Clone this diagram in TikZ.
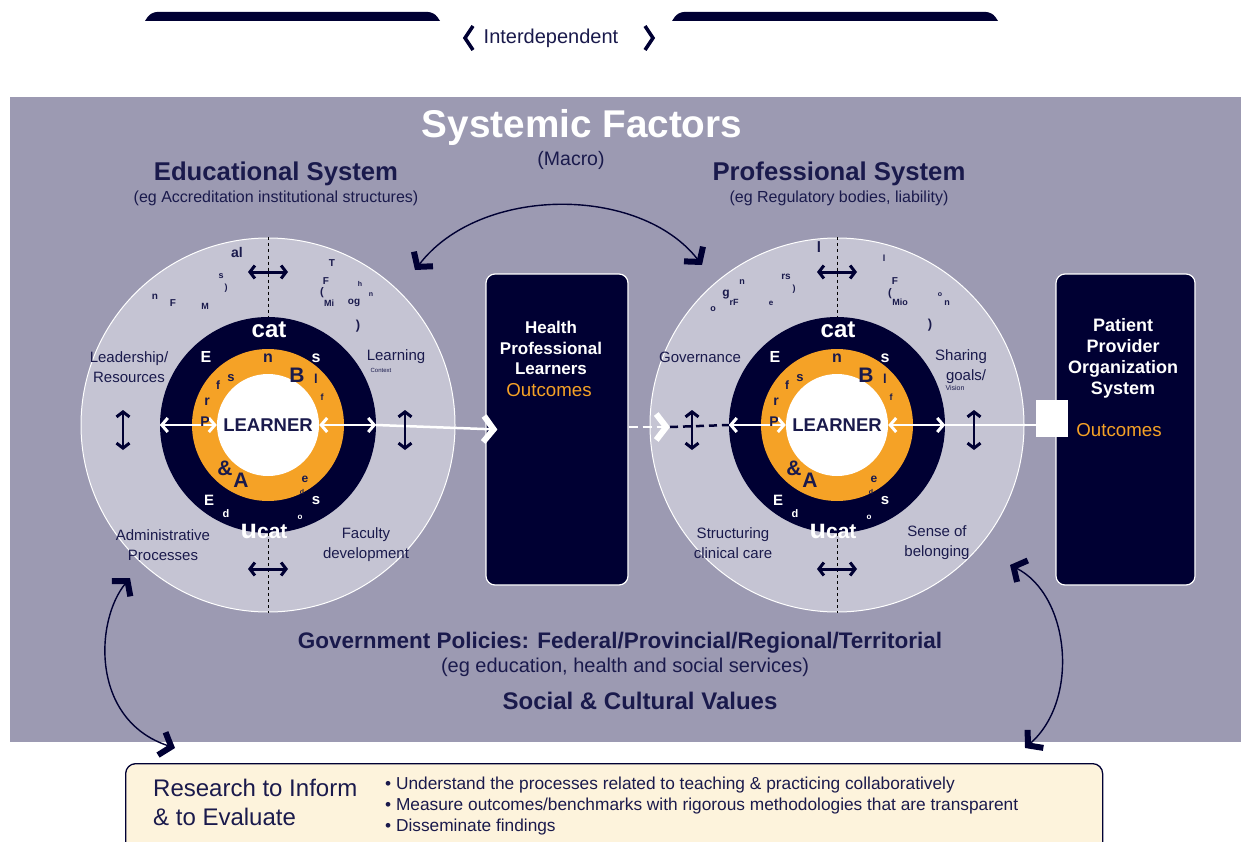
\documentclass[tikz,border=0pt]{standalone}
\usepackage{fontspec}
\setmainfont{Liberation Sans}
\usetikzlibrary{arrows.meta}
\definecolor{navy}{HTML}{000033}
\definecolor{ink}{HTML}{1A1A4C}
\definecolor{slate}{HTML}{9C9AB2}
\definecolor{mist}{HTML}{C5C4D3}
\definecolor{amber}{HTML}{F5A226}
\definecolor{cream}{HTML}{FDF3DC}
\newcommand{\pxfont}[2]{\fontsize{#1}{#2}\selectfont}

\tikzset{
  txt/.style={text=ink, inner sep=0pt, align=center},
  ringtxt/.style={inner sep=0pt, font=\bfseries},
  disc/.style={circle, inner sep=0pt, minimum size=#1},
  outbox/.style={draw=white, line width=1.2pt, fill=navy, rounded corners=9pt,
    minimum height=311pt},
  boxtitle/.style={text=white, align=center, inner sep=0pt, font=\bfseries\pxfont{17}{20.5}},
  outcome/.style={text=amber, inner sep=0pt, font=\pxfont{18.7}{20}},
  navyarrow/.style={draw=navy, line width=3pt,
    {Straight Barb[length=5pt,width=13pt,line width=3pt]}-{Straight Barb[length=5pt,width=13pt,line width=3pt]}},
  whitearrow/.style={draw=white, line width=2.5pt,
    {Straight Barb[length=6pt,width=14pt,line width=3pt]}-{Straight Barb[length=6pt,width=14pt,line width=3pt]}},
  whitelink/.style={draw=white, line width=2.5pt,
    -{Straight Barb[length=10pt,width=26pt,line width=6pt]}},
  swing/.style={draw=navy, line width=1.4pt,
    {Straight Barb[length=10pt,width=24pt,line width=6pt]}-{Straight Barb[length=10pt,width=24pt,line width=6pt]}}
}

\begin{document}
\begin{tikzpicture}[x=1pt, y=-1pt]
  % page, top tabs and panel
  \fill[white] (0,0) rectangle (1241,842);
  \clip (0,0) rectangle (1241,842);
  \fill[navy] (145,21) [rounded corners=6pt] -- (151,12) -- (434,12) [sharp corners] -- (440,21) -- cycle;
  \fill[navy] (672,21) [rounded corners=6pt] -- (678,12) -- (992,12) [sharp corners] -- (998,21) -- cycle;
  \node[txt, font=\pxfont{20}{22}] (inter) at (551,38) {Interdependent};
  \draw[navy, line width=3.5pt] (473,26) -- (465,38) -- (473,50);
  \draw[navy, line width=3.5pt] (645,26) -- (653,38) -- (645,50);
  \fill[slate] (10,97) rectangle (1241,742);

  % titles
  \node[txt, text=white, font=\bfseries\pxfont{38.7}{40}] (sysf) at (582,127) {Systemic Factors};
  \node[txt, font=\pxfont{19.5}{22}] (macro) at (571,160) {(Macro)};
  \node[txt, font=\bfseries\pxfont{25.7}{28}] (edutitle) at (276,174) {Educational System};
  \node[txt, font=\pxfont{16}{18}] (edusub) at (276,198) {(eg Accreditation institutional structures)};
  \node[txt, font=\bfseries\pxfont{25.7}{28}] (proftitle) at (839,174) {Professional System};
  \node[txt, font=\pxfont{16}{18}] (profsub) at (839,198) {(eg Regulatory bodies, liability)};

  % the two systems
  \foreach \sys/\cx in {educ/268, prof/837} {
    \node[disc=374pt, fill=mist, draw=white, line width=1pt] (\sys-out) at (\cx,425) {};
    \node[disc=216pt, fill=navy] (\sys-ring) at (\cx,425) {};
    \node[disc=152pt, fill=amber] (\sys-amber) at (\cx,425) {};
    \node[disc=102pt, fill=white, text=ink, font=\bfseries\pxfont{18.5}{20}] (\sys-core) at (\cx,425) {LEARNER};
    \draw[black, dashed, line width=1pt] (\sys-out.north) -- (\sys-ring.north);
    \draw[black, dashed, line width=1pt] (\sys-ring.south) -- (\sys-out.south);
    \draw[whitearrow] (\sys-ring.west) -- (\sys-core.west);
    \draw[whitearrow] (\sys-core.east) -- (\sys-ring.east);
    % broken ring lettering
    \foreach \t/\dx/\dy/\s in {cat/1/-95/24, E/-62/-68/16, s/48/-67/16, E/-59/75/15, s/48/76/15,
        d/-42/89/11, o/32/92/8, {\pxfont{27}{27}u\pxfont{21}{21}cat}/-4/106/21}
      \node[ringtxt, text=white, font=\bfseries\pxfont{\s}{\s}] at ([shift={(\dx,\dy)}]\sys-out.center) {\t};
    \foreach \t/\dx/\dy/\s in {n/0/-67/16, B/29/-50/21, s/-37/-47/13, f/-50/-40/12, l/48/-46/13,
        f/54/-28/9, r/-61/-23/14, P/-63/-3/14, \&/-43/43/21, A/-27/55/21, e/37/54/12, d/34/67/7}
      \node[ringtxt, text=ink, font=\bfseries\pxfont{\s}{\s}] at ([shift={(\dx,\dy)}]\sys-out.center) {\t};
    \draw[navyarrow] ([shift={(-20,-153)}]\sys-out.center) -- ([shift={(20,-153)}]\sys-out.center);
    \draw[navyarrow] ([shift={(-20,144)}]\sys-out.center) -- ([shift={(20,144)}]\sys-out.center);
  }

  % scattered fragments of the outer ring
  \foreach \t/\x/\y/\s in {al/237/252/14, s/221/276/9, {)}/226/288/9, n/155/297/10, F/173/303/10,
      M/205/306/9, T/332/263/10, F/326/281/10, {(}/322/293/11, Mi/329/303/9, og/354/303/10,
      h/360/284/7, n/371/295/7, {)}/358/326/13,
      l/819/247/15, rs/786/277/10, n/742/282/9, g/726/295/12, rF/734/302/9, o/713/309/9,
      e/771/303/8, {)}/794/289/9, l/884/258/9, F/895/281/10, {(}/890/294/11, Mio/900/302/9,
      n/947/303/9, o/940/295/7, {)}/930/325/13}
    \node[ringtxt, text=ink, font=\bfseries\pxfont{\s}{\s}] at (\x,\y) {\t};

  % sector labels
  \node[txt, font=\pxfont{15}{20}] (lead) at (129,367) {Leadership/\\Resources};
  \node[txt, font=\pxfont{15}{20}] (learn) at (396,357) {Learning};
  \node[txt, font=\pxfont{6}{6}] (context) at (381,370) {Context};
  \node[txt, font=\pxfont{15}{20}] (admin) at (163,545) {Administrative\\Processes};
  \node[txt, font=\pxfont{15}{20}] (faculty) at (366,545) {Faculty\\development};
  \node[txt, font=\pxfont{15}{20}] (gover) at (700,357) {Governance};
  \node[txt, font=\pxfont{15}{20}] (sharing) at (961,357) {Sharing};
  \node[txt, font=\pxfont{15}{20}] (goals) at (966,377) {goals/};
  \node[txt, font=\pxfont{7}{7}] (vision) at (955,388) {Vision};
  \node[txt, font=\pxfont{15}{20}] (struct) at (733,543) {Structuring\\clinical care};
  \node[txt, font=\pxfont{15}{20}] (belong) at (937,543) {Sense of\\belonging};

  % outcome boxes
  \node[outbox, minimum width=142pt] (hpl) at (557,429.5) {};
  \node[boxtitle] (hpltitle) at (551,348) {Health\\Professional\\Learners};
  \node[outcome] (hplout) at (549,390) {Outcomes};
  \node[outbox, minimum width=139pt] (ppo) at (1125.5,429.5) {};
  \node[boxtitle, font=\bfseries\pxfont{18}{21}] (ppotitle) at (1123,358) {Patient\\Provider\\Organization\\System};
  \node[outcome] (ppoout) at (1119,430) {Outcomes};
  \node[fill=white, inner sep=0pt, minimum width=32pt, minimum height=37pt] (plug) at (1052,418.5) {};

  % links between systems and outcomes
  \coordinate (gate) at (670,427);
  \draw[whitelink] (educ-ring.east) -- ([xshift=12pt]hpl.west);
  \draw[whitelink, dashed, dash pattern=on 9pt off 5pt] (hpl.east |- gate) -- (gate);
  \draw[navy, line width=2.5pt, dash pattern=on 8pt off 5pt] (gate) -- (prof-ring.west);
  \draw[white, line width=2.5pt] (prof-ring.east) -- (plug.west |- prof-ring.east);
  \foreach \sys in {educ, prof} {
    \draw[navyarrow, line width=2pt] ([shift={(-145,-15)}]\sys-out.center) -- ([shift={(-145,25)}]\sys-out.center);
    \draw[navyarrow, line width=2pt] ([shift={(137,-15)}]\sys-out.center) -- ([shift={(137,25)}]\sys-out.center);
  }

  % interdependence arcs
  \coordinate (swingA) at (415,270);
  \coordinate (swingB) at (702,265);
  \coordinate (swingC) at (130,578);
  \coordinate (swingD) at (175,748);
  \coordinate (swingE) at (1010,565);
  \coordinate (swingF) at (1025,748);
  \draw[swing] (swingA) .. controls (480,185) and (640,185) .. (swingB);
  \draw[swing] (swingC) .. controls (95,620) and (90,720) .. (swingD);
  \draw[swing] (swingE) .. controls (1070,595) and (1080,700) .. (swingF);

  % wider context
  \node[txt, font=\bfseries\pxfont{22.5}{24}] (gov) at (620,643) {Government Policies: Federal/Provincial/Regional/Territorial};
  \node[txt, font=\pxfont{20}{22}] (govsub) at (625,667) {(eg education, health and social services)};
  \node[txt, font=\bfseries\pxfont{24}{26}] (values) at (640,701) {Social \& Cultural Values};

  % research box
  \node[draw=navy, fill=cream, line width=1.3pt, rounded corners=10pt, anchor=north west,
    minimum width=977pt, minimum height=110pt] (research) at (125,763) {};
  \node[txt, anchor=west, align=left, font=\pxfont{24}{29}] (restitle) at (153,802) {Research to Inform\\\& to Evaluate};
  \node[txt, anchor=west, align=left, font=\pxfont{17.3}{21}] (resitems) at (385,806)
    {\textbullet\ Understand the processes related to teaching \& practicing collaboratively\\
     \textbullet\ Measure outcomes/benchmarks with rigorous methodologies that are transparent\\
     \textbullet\ Disseminate findings};
\end{tikzpicture}
\end{document}
